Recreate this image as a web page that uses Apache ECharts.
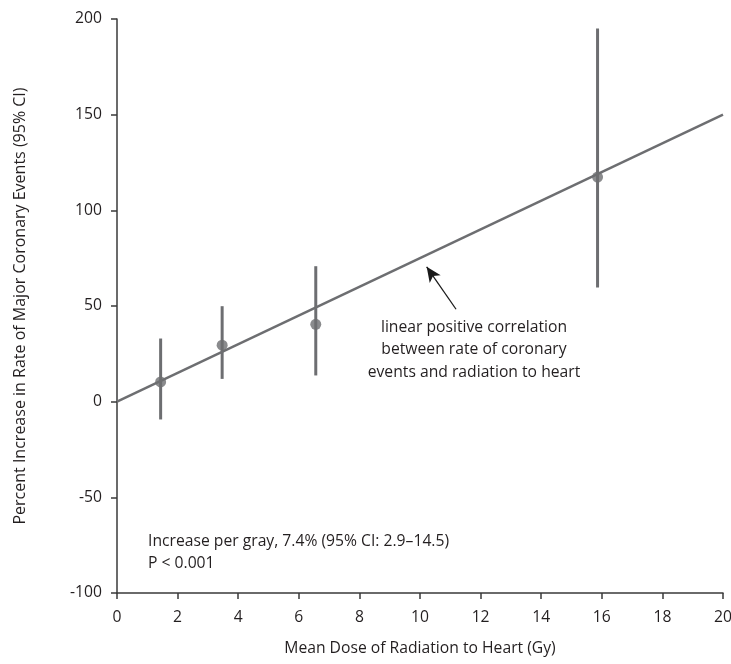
<!DOCTYPE html>
<html><head><meta charset="utf-8">
<script src="https://cdn.jsdelivr.net/npm/echarts@6/dist/echarts.min.js"></script>
<style>html,body{margin:0;padding:0;background:#fff}#c{width:731px;height:664px}</style>
</head><body><div id="c"></div>
<script>
const doseX = [1.44, 3.47, 6.56, 15.86];
const pctIncrease = [10.3, 29.5, 40.4, 117.4];
const ciLow = [-9.3, 11.9, 13.7, 59.7];
const ciHigh = [33.0, 49.9, 70.8, 195.1];
const fitX = [0, 20];
const fitY = [0, 150];
const arrowFrom = [11.19, 48.3];
const arrowTo = [10.22, 70.5];
const xTicks = [0,2,4,6,8,10,12,14,16,18,20];
const yTicks = [-100,-50,0,50,100,150,200];
const annotationLines = ['linear positive correlation','between rate of coronary','events and radiation to heart'];
const statLines = ['Increase per gray, 7.4% (95% CI: 2.9\u201314.5)','P < 0.001'];

const grey = '#6d6e71', axisCol = '#3a3a3a', txt = '#231f20';
const FF = 'Open Sans';
const FS = 15.7;
const chart = echarts.init(document.getElementById('c'));
chart.setOption({
  animation:false,
  textStyle:{fontFamily:FF},
  grid:{left:117, right:8, top:19, bottom:71, containLabel:false, outerBoundsMode:'none'},
  xAxis:{type:'value', min:0, max:20, interval:2,
    name:'Mean Dose of Radiation to Heart (Gy)', nameLocation:'middle', nameGap:48,
    nameTextStyle:{color:txt, fontSize:FS, fontFamily:FF},
    axisLine:{onZero:false, lineStyle:{color:axisCol, width:1.5}},
    axisTick:{length:6, lineStyle:{color:axisCol, width:1.5}},
    axisLabel:{color:txt, fontSize:FS, margin:17, fontFamily:FF},
    splitLine:{show:false}},
  yAxis:{type:'value', min:-100, max:200, interval:50,
    name:'Percent Increase in Rate of Major Coronary Events (95% CI)', nameLocation:'middle', nameGap:89,
    nameTextStyle:{color:txt, fontSize:16, fontFamily:FF},
    axisLine:{show:true, onZero:false, lineStyle:{color:axisCol, width:1.5}},
    axisTick:{show:true, length:6, lineStyle:{color:axisCol, width:1.5}},
    axisLabel:{color:txt, fontSize:FS, margin:15, fontFamily:FF},
    splitLine:{show:false}},
  series:[
    {type:'line', data:fitX.map((x,i)=>[x,fitY[i]]), symbol:'none',
     lineStyle:{color:grey, width:2.5}, z:2,
     markLine:{silent:true, symbol:['none','arrow'], symbolSize:[10,15],
       lineStyle:{color:'#1a1a1a', width:1.3, type:'solid'}, label:{show:false},
       data:[[{coord:arrowFrom},{coord:arrowTo}]]}},
    {type:'custom', data:doseX.map((x,i)=>[x,ciLow[i],ciHigh[i]]), z:3,
     renderItem:function(params, api){
       const a = api.coord([api.value(0), api.value(1)]);
       const b = api.coord([api.value(0), api.value(2)]);
       return {type:'line', shape:{x1:a[0],y1:a[1],x2:b[0],y2:b[1]}, style:{stroke:grey, lineWidth:3}};
     }},
    {type:'scatter', data:doseX.map((x,i)=>[x,pctIncrease[i]]), symbolSize:11,
     itemStyle:{color:grey}, z:4}
  ],
  graphic:[
    {type:'text', x:474, y:316, style:{text:annotationLines.join('\n'), fill:txt, font:FS+'px "'+FF+'"', align:'center', lineHeight:22.5}},
    {type:'text', x:148, y:530.5, style:{text:statLines.join('\n'), fill:txt, font:FS+'px "'+FF+'"', align:'left', lineHeight:22}}
  ]
});
</script></body></html>
